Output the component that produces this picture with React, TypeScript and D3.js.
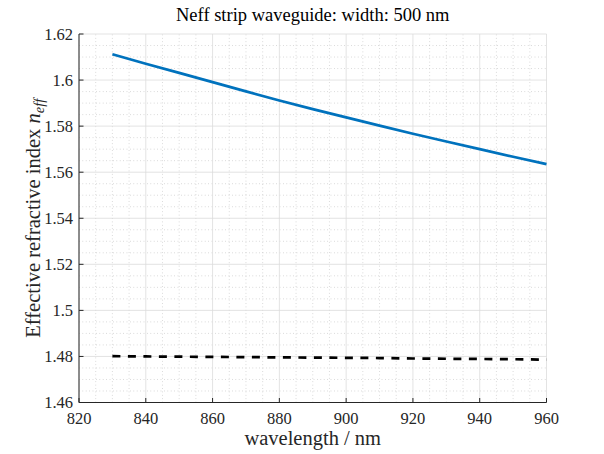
import React from 'react';
import * as d3 from 'd3';

// wavelength in nm
const wavelengths = [830, 840, 850, 860, 870, 880, 890, 900, 910, 920, 930, 940, 950, 960];
// TE-like mode (blue solid)
const neffMode1 = [1.6112, 1.6071, 1.6031, 1.5991, 1.5951, 1.5911, 1.5874, 1.5838, 1.5802, 1.5767, 1.5733, 1.5700, 1.5667, 1.5635];
// cladding / substrate index (black dashed)
const neffClad = [1.4801, 1.48, 1.4799, 1.4798, 1.4797, 1.4796, 1.4795, 1.4794, 1.4793, 1.4791, 1.4790, 1.4789, 1.4788, 1.4786];

const xTicks = [820, 840, 860, 880, 900, 920, 940, 960];
const yTicks = [1.46, 1.48, 1.5, 1.52, 1.54, 1.56, 1.58, 1.6, 1.62];

const W = 604;
const H = 454;
const margin = { top: 34, right: 57.5, bottom: 51.5, left: 79 };
const font = '"Liberation Serif", "DejaVu Serif", serif';

const App: React.FC = () => {
  const x = d3.scaleLinear().domain([820, 960]).range([margin.left, W - margin.right]);
  const y = d3.scaleLinear().domain([1.46, 1.62]).range([H - margin.bottom, margin.top]);

  const xMinor = d3.range(820, 960.1, 5).filter(v => v % 20 !== 0);
  const yMinor = d3.range(0, 33).map(i => 1.46 + i * 0.005).filter((_, i) => i % 4 !== 0);

  const line = d3.line<number>()
    .x((_, i) => x(wavelengths[i]))
    .y(d => y(d));

  const [x0, x1] = x.range();
  const [y0, y1] = y.range();

  return (
    <svg width={W} height={H} style={{ position: 'absolute', left: 0, top: 0, background: '#fff' }}>
      <rect x={0} y={0} width={W} height={H} fill="#fff" />

      {/* minor grid */}
      <g stroke="#b4b4b4" strokeWidth={0.6} strokeDasharray="0.8,2.6">
        {xMinor.map(v => <line key={'xm' + v} x1={x(v)} x2={x(v)} y1={y0} y2={y1} />)}
        {yMinor.map(v => <line key={'ym' + v} x1={x0} x2={x1} y1={y(v)} y2={y(v)} />)}
      </g>

      {/* major grid */}
      <g stroke="#dcdcdc" strokeWidth={0.8}>
        {xTicks.map(v => <line key={'xg' + v} x1={x(v)} x2={x(v)} y1={y0} y2={y1} />)}
        {yTicks.map(v => <line key={'yg' + v} x1={x0} x2={x1} y1={y(v)} y2={y(v)} />)}
      </g>

      {/* data */}
      <path d={line(neffMode1) ?? ''} fill="none" stroke="#0072BD" strokeWidth={2.7} />
      <path d={line(neffClad) ?? ''} fill="none" stroke="#000" strokeWidth={2.7} strokeDasharray="8,7.5" />

      {/* axes */}
      <g stroke="#262626" strokeWidth={1}>
        <line x1={x0} x2={x1} y1={y0} y2={y0} />
        <line x1={x0} x2={x0} y1={y0} y2={y1} />
        {xTicks.map(v => <line key={'xt' + v} x1={x(v)} x2={x(v)} y1={y0} y2={y0 - 4.5} />)}
        {yTicks.map(v => <line key={'yt' + v} x1={x0} x2={x0 + 4.5} y1={y(v)} y2={y(v)} />)}
      </g>

      <g fontFamily={font} fontSize={16.5} fill="#262626">
        {xTicks.map(v => (
          <text key={'xl' + v} x={x(v)} y={y0 + 21} textAnchor="middle">{v}</text>
        ))}
        {yTicks.map(v => (
          <text key={'yl' + v} x={x0 - 6} y={y(v) + 5.5} textAnchor="end">{d3.format('')(v)}</text>
        ))}
      </g>

      <text x={(x0 + x1) / 2} y={21} textAnchor="middle" fontFamily={font} fontSize={18.5} fill="#000">
        Neff strip waveguide: width: 500 nm
      </text>

      <text x={(x0 + x1) / 2} y={445} textAnchor="middle" fontFamily={font} fontSize={20.5} fill="#262626">
        wavelength / nm
      </text>

      <text
        transform={`translate(40,${(y0 + y1) / 2}) rotate(-90)`}
        textAnchor="middle"
        fontFamily={font}
        fontSize={20.5}
        fill="#262626"
      >
        Effective refractive index <tspan fontStyle="italic">n</tspan>
        <tspan fontStyle="italic" fontSize={14.5} dy={4}>eff</tspan>
      </text>
    </svg>
  );
};

export default App;
